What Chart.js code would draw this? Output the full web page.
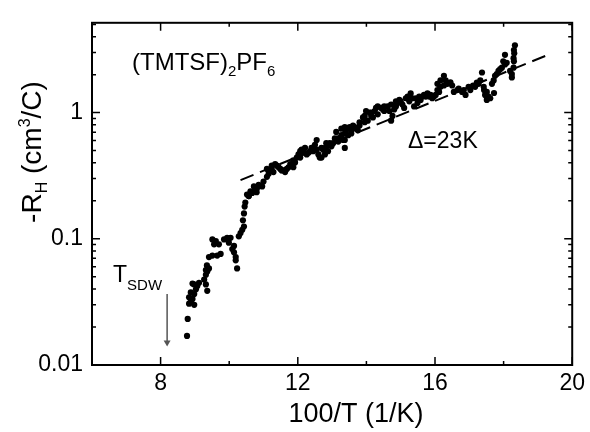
<!DOCTYPE html>
<html>
<head>
<meta charset="utf-8">
<script src="https://cdn.jsdelivr.net/npm/chart.js"></script>
<style>
  html, body { margin: 0; padding: 0; background: #fff; }
</style>
</head>
<body>
<canvas id="myChart" width="590" height="432"></canvas>
<script>
// measured points: 100/T (1/K) and -R_H (cm3/C)
const invT = [
  8.77, 8.79, 8.83, 8.88, 8.93, 8.83, 8.98, 8.88, 9.03, 9.07, 8.98, 9.12, 9.36, 9.32, 9.27, 9.32,
  9.36, 9.41, 9.32, 9.35, 9.41, 9.51, 9.65, 9.75, 9.56, 9.51, 9.61, 9.70, 9.85, 9.94, 10.04, 9.99,
  10.09, 10.14, 10.19, 10.19, 10.23, 10.14, 10.28, 10.33, 10.38, 10.43, 10.40, 10.43, 10.45, 10.47,
  10.52, 8.98, 8.93,
  10.67, 10.76, 10.72, 10.86, 10.96, 11.00, 11.10, 11.15, 11.20, 11.10, 11.24, 11.34, 11.44, 11.49,
  11.63, 11.73, 11.82, 11.97, 12.07, 12.16, 12.26, 12.36, 12.50, 12.55, 12.69, 12.69, 12.79, 12.88,
  12.98, 13.08, 13.12, 13.27, 13.37, 13.37, 13.37,
  10.57, 10.80, 11.29, 11.55, 11.87, 12.42, 12.83,
  10.62, 10.57, 10.81, 11.24, 11.68, 11.78, 11.87, 12.02, 12.11, 12.21, 12.31, 12.40, 12.60, 12.64,
  12.74, 12.84, 12.93, 13.18, 13.27, 13.37,
  11.39, 11.53, 11.92, 12.07, 12.45, 12.55, 12.79, 13.03, 13.17,
  13.27, 13.32, 13.41, 13.51, 13.61, 13.70, 13.80, 13.90, 13.99, 14.09, 14.14, 14.24, 14.33, 14.43,
  14.52, 14.62, 14.72, 14.76, 14.81, 14.91, 14.96, 15.05, 15.10, 15.20, 15.29, 15.39, 15.49, 15.54,
  15.68, 15.78, 15.92, 16.02, 16.07, 16.16, 16.26,
  13.47, 13.56, 13.75, 13.95, 14.04, 14.19, 14.33, 14.48, 14.67, 14.86, 15.00, 15.25, 15.34, 15.58,
  15.73, 15.87, 15.97,
  13.56, 13.65, 13.80, 13.95, 14.14, 14.28, 14.52, 14.72, 14.86, 15.15, 15.44, 15.63, 15.83, 16.12,
  16.16, 16.26, 16.36, 16.45, 16.55, 16.65, 16.79, 16.89, 16.98, 17.11, 17.22, 17.32, 17.37, 17.42,
  17.46, 17.51, 17.56, 17.66, 17.75, 17.85, 17.95, 17.99, 18.04, 18.09, 18.24, 18.29, 18.29, 18.30,
  18.33, 17.43, 17.72,
  16.07, 16.31, 16.50, 16.69, 16.84, 17.03, 17.17, 17.27, 17.51, 17.61, 17.71, 17.80, 17.90, 18.04,
  18.19, 18.24, 18.30, 18.31
];
const rH = [
  0.0170, 0.0232, 0.0306, 0.0315, 0.0334, 0.0344, 0.0365, 0.0376, 0.0398, 0.0423, 0.0435, 0.0448, 0.0387, 0.0435, 0.0475, 0.0518,
  0.0550, 0.0583, 0.0566, 0.0615, 0.0716, 0.0736, 0.0736, 0.0759, 0.0905, 0.0988, 0.0959, 0.0905, 0.0988, 0.1018, 0.1018, 0.0932,
  0.0829, 0.0782, 0.0716, 0.0675, 0.0583, 0.0878, 0.1047, 0.111, 0.118, 0.125, 0.140, 0.159, 0.180, 0.194,
  0.224, 0.030, 0.0442,
  0.231, 0.245, 0.260, 0.268, 0.260, 0.284, 0.310, 0.328, 0.348, 0.358, 0.380, 0.391, 0.369, 0.358,
  0.338, 0.369, 0.380, 0.440, 0.495, 0.481, 0.466, 0.495, 0.556, 0.607, 0.525, 0.440, 0.466, 0.495,
  0.541, 0.625, 0.703, 0.746, 0.768, 0.525, 0.607,
  0.218, 0.234, 0.338, 0.350, 0.418, 0.525, 0.573,
  0.238, 0.218, 0.252, 0.358, 0.358, 0.391, 0.369, 0.466, 0.509, 0.525, 0.481, 0.525, 0.466, 0.440,
  0.509, 0.541, 0.573, 0.590, 0.644, 0.683,
  0.380, 0.348, 0.403, 0.440, 0.495, 0.509, 0.509, 0.573, 0.625,
  0.663, 0.607, 0.724, 0.768, 0.790, 0.746, 0.790, 0.916, 1.03, 1.00, 0.942, 1.03, 1.12, 1.09,
  1.03, 1.12, 0.863, 0.942, 1.06, 1.19, 1.26, 1.16, 1.09, 1.34, 1.42, 1.12, 1.19, 1.34,
  1.38, 1.42, 1.30, 1.38, 1.51, 1.60, 1.64,
  0.663, 0.683, 0.724, 0.839, 0.863, 0.916, 0.97, 1.06, 1.03, 1.12, 1.23, 1.23, 1.30, 1.26,
  1.34, 1.38, 1.34,
  0.724, 0.768, 0.839, 0.942, 1.00, 1.09, 1.12, 1.16, 1.23, 1.30, 1.30, 1.34, 1.34, 1.46,
  1.80, 1.96, 1.69, 1.74, 1.46, 1.51, 1.46, 1.38, 1.60, 1.64, 1.73, 1.80, 2.08, 1.60,
  1.38, 1.26, 1.34, 1.69, 1.96, 2.14, 2.27, 2.55, 2.87, 2.48, 2.02, 2.27, 2.70, 3.13,
  3.42, 1.51, 1.43,
  1.69, 1.80, 1.64, 1.55, 1.51, 1.51, 1.60, 1.69, 1.46, 1.30, 1.80, 2.02, 2.21, 2.41,
  2.14, 1.90, 2.55, 2.95
];

// activation fit, Delta = 23 K
const fitX = [10.33, 19.4];
const fitY = [0.292, 2.95];

// T_SDW arrow
const arrowX = [8.19, 8.19];
const arrowY = [0.0365, 0.0151];

// axes
const xTicks = [6, 8, 10, 12, 14, 16, 18, 20];
const xLabels = [8, 12, 16, 20];
const yTicks = [
  0.01, 0.02, 0.03, 0.04, 0.05, 0.06, 0.07, 0.08, 0.09,
  0.1, 0.2, 0.3, 0.4, 0.5, 0.6, 0.7, 0.8, 0.9,
  1, 2, 3, 4, 5
];
const yLabels = [0.01, 0.1, 1];

const FONT = '"Liberation Sans", Arial, sans-serif';

function richText(ctx, parts, x, y) {
  let cx = x;
  for (const [t, size, dy] of parts) {
    ctx.font = size + 'px ' + FONT;
    ctx.fillText(t, cx, y + dy);
    cx += ctx.measureText(t).width;
  }
  return cx - x;
}
function richWidth(ctx, parts) {
  let w = 0;
  for (const [t, size] of parts) {
    ctx.font = size + 'px ' + FONT;
    w += ctx.measureText(t).width;
  }
  return w;
}

const framePlugin = {
  id: 'frame',
  afterDraw(chart) {
    const { ctx, chartArea: a, scales: { x, y } } = chart;
    ctx.save();
    ctx.strokeStyle = '#000';
    ctx.lineWidth = 2;
    ctx.strokeRect(a.left, a.top, a.right - a.left, a.bottom - a.top);

    ctx.lineWidth = 1.5;
    ctx.beginPath();
    xTicks.forEach(v => {
      const px = x.getPixelForValue(v);
      const len = xLabels.includes(v) ? 8 : 4;
      ctx.moveTo(px, a.bottom); ctx.lineTo(px, a.bottom - len);
      ctx.moveTo(px, a.top); ctx.lineTo(px, a.top + len);
    });
    yTicks.forEach(v => {
      const py = y.getPixelForValue(v);
      const len = yLabels.includes(v) ? 8 : 4;
      ctx.moveTo(a.left, py); ctx.lineTo(a.left + len, py);
      ctx.moveTo(a.right, py); ctx.lineTo(a.right - len, py);
    });
    ctx.stroke();

    // texts
    ctx.fillStyle = '#000';
    ctx.textBaseline = 'alphabetic';
    ctx.textAlign = 'left';

    // x title
    ctx.font = '27px ' + FONT;
    ctx.textAlign = 'center';
    ctx.fillText('100/T (1/K)', 356, 422);
    ctx.textAlign = 'left';

    // y title
    const yParts = [['-R', 28, 0], ['H', 16, 6], [' (cm', 28, 0], ['3', 16, -11], ['/C)', 28, 0]];
    const yw = richWidth(ctx, yParts);
    ctx.save();
    ctx.translate(41, 152 + yw / 2);
    ctx.rotate(-Math.PI / 2);
    richText(ctx, yParts, 0, 0);
    ctx.restore();

    // compound name
    richText(ctx, [['(TMTSF)', 24, 0], ['2', 15, 6], ['PF', 24, 0], ['6', 15, 6]], 132, 70);

    // gap
    ctx.font = '23px ' + FONT;
    ctx.fillText('\u0394=23K', 408, 148);

    // T_SDW
    richText(ctx, [['T', 23, 0], ['SDW', 15, 8]], 113, 282);
    ctx.restore();
  }
};

const config = {
  data: {
    datasets: [
      {
        type: 'scatter',
        data: invT.map((v, i) => ({ x: v, y: rH[i] })),
        pointRadius: 3.1,
        pointBackgroundColor: '#000',
        pointBorderWidth: 0,
        order: 2
      },
      {
        type: 'line',
        data: fitX.map((v, i) => ({ x: v, y: fitY[i] })),
        borderColor: '#000',
        borderWidth: 2,
        borderDash: [14, 7],
        pointRadius: 0,
        fill: false,
        order: 1
      },
      {
        type: 'line',
        data: arrowX.map((v, i) => ({ x: v, y: arrowY[i] })),
        borderColor: '#555',
        borderWidth: 1.5,
        pointRadius: [0, 4],
        pointStyle: 'triangle',
        rotation: 180,
        pointBackgroundColor: '#555',
        pointBorderWidth: 0,
        fill: false,
        order: 0
      }
    ]
  },
  options: {
    responsive: false,
    animation: false,
    layout: { padding: { left: 0, right: 14, top: 10, bottom: 0 } },
    plugins: { legend: { display: false }, tooltip: { enabled: false } },
    scales: {
      x: {
        type: 'linear',
        min: 6,
        max: 20,
        grid: { display: false, drawTicks: false },
        border: { display: false },
        afterBuildTicks: s => { s.ticks = xTicks.map(v => ({ value: v })); },
        ticks: {
          autoSkip: false,
          maxRotation: 0,
          padding: 5,
          color: '#000',
          font: { family: FONT, size: 23 },
          callback: v => (xLabels.includes(v) ? String(v) : null)
        },
        afterFit: s => { s.height = 67; }
      },
      y: {
        type: 'logarithmic',
        min: 0.01,
        max: 5.15,
        grid: { display: false, drawTicks: false },
        border: { display: false },
        afterBuildTicks: s => { s.ticks = yTicks.map(v => ({ value: v })); },
        ticks: {
          autoSkip: false,
          padding: 9,
          color: '#000',
          font: { family: FONT, size: 23 },
          callback: v => (yLabels.includes(v) ? String(v) : null)
        },
        afterFit: s => { s.width = 92; }
      }
    }
  },
  plugins: [framePlugin]
};

const myChart = new Chart(document.getElementById('myChart'), config);
</script>
</body>
</html>
